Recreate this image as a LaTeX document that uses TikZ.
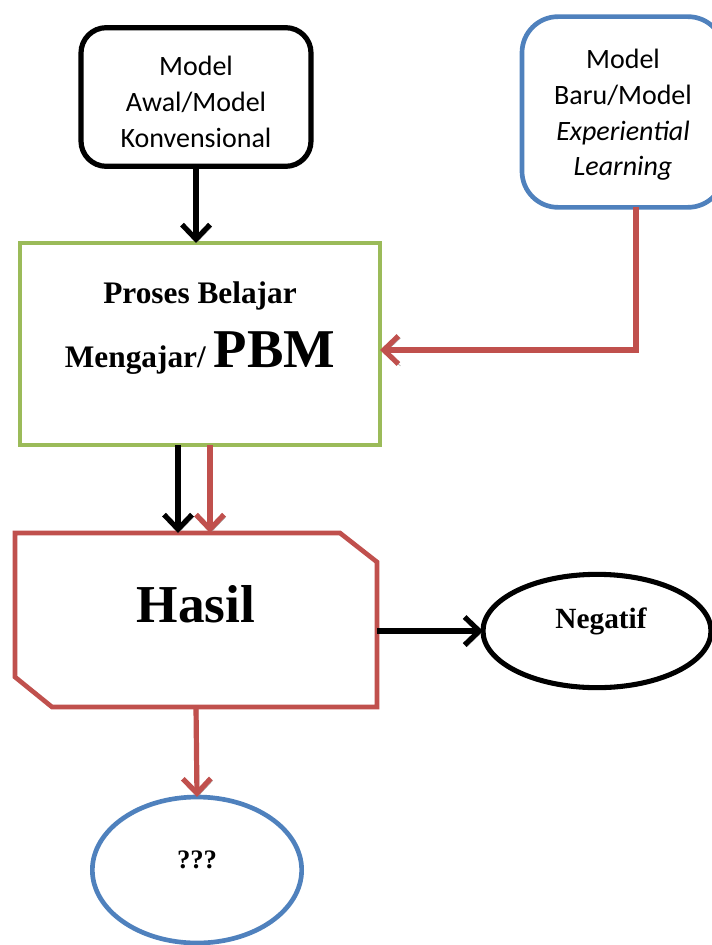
\documentclass[tikz,border=0pt]{standalone}
\usepackage{fontspec}
\setmainfont{Liberation Serif}
\newfontfamily\calibri{Carlito}
\usetikzlibrary{calc, positioning, shapes.geometric, arrows.meta}
\definecolor{ogreen}{HTML}{9BBB59}
\definecolor{oblue}{HTML}{4F81BD}
\definecolor{ored}{HTML}{C0504D}

\begin{document}
\begin{tikzpicture}[x=0.75pt, y=-0.75pt,
    box/.style={draw, line width=3.5pt, fill=white, inner sep=0pt, outer sep=0pt},
    modeltext/.style={font=\calibri\fontsize{21}{26.7}\selectfont, align=center},
    boldtext/.style={font=\bfseries\fontsize{23.5}{26}\selectfont, anchor=base, inner sep=0pt},
    arr/.style={line width=3.9pt, -{Straight Barb[length=11pt,width=21pt]},
        preaction={draw=black!40, transform canvas={shift={(1.5pt,-1.5pt)}}}}]
    \useasboundingbox (0,0) rectangle (712,945);
    % models
    \node[box, line width=3.9pt, rounded corners=19pt, minimum width=172.5pt, minimum height=104pt, modeltext] (awal) at (196,97) {\rule{0pt}{22pt}Model\\Awal/Model\\Konvensional};
    \node[box, draw=oblue, rounded corners=27pt, minimum width=151.5pt, minimum height=143pt, modeltext] (baru) at (623,112) {\rule{0pt}{19pt}Model\\Baru/Model\\\textit{Experiential}\\\textit{Learning}};
    % PBM
    \node[box, draw=ogreen, minimum width=270pt, minimum height=151.5pt] (pbm) at (200,344) {};
    \node[boldtext] (pbmtop) at (200,303) {Proses Belajar};
    \node[boldtext] (pbmbottom) at (200,367) {Mengajar/ {\fontsize{41}{41}\selectfont PBM}};
    % hasil
    \node[minimum width=271.5pt, minimum height=130.5pt, inner sep=0pt, outer sep=0pt] (hasil) at (196,620) {};
    \draw[ored, line width=3.5pt, fill=white] (hasil.north west) -- ($(hasil.north east)+(-37,0)$) -- ($(hasil.north east)+(0,29)$)
        -- (hasil.south east) -- ($(hasil.south west)+(37,0)$) -- ($(hasil.south west)+(0,-30)$) -- cycle;
    \node[boldtext, font=\bfseries\fontsize{40}{40}\selectfont] (hasiltext) at (196,622) {Hasil};
    \node[box, line width=3.8pt, ellipse, minimum width=171pt, minimum height=85pt] (neg) at (597,631) {};
    \node[boldtext, font=\bfseries\fontsize{22}{24}\selectfont] (negtext) at (601,628) {Negatif};
    \node[box, ellipse, draw=oblue, minimum width=157pt, minimum height=109.5pt] (tanya) at (197,870) {};
    \node[boldtext, font=\bfseries\fontsize{20}{24}\selectfont] (tanyatext) at (197,868) {???};
    % arrows
    \coordinate (blackstart) at ($(pbm.south)+(-22,0)$);
    \coordinate (redstart) at ($(pbm.south)+(10,0)$);
    \draw[arr] (awal.south) -- (awal.south |- pbm.north);
    \draw[arr, ored] ($(baru.south)+(13,0)$) |- ($(pbm.east)+(0,6)$);
    \draw[arr] (blackstart) -- (blackstart |- hasil.north);
    \draw[arr, ored] (redstart) -- (redstart |- hasil.north);
    \draw[arr] (hasil.east |- neg.west) -- (neg.west);
    \draw[arr, ored] (hasil.south) -- (tanya.north);
\end{tikzpicture}
\end{document}
